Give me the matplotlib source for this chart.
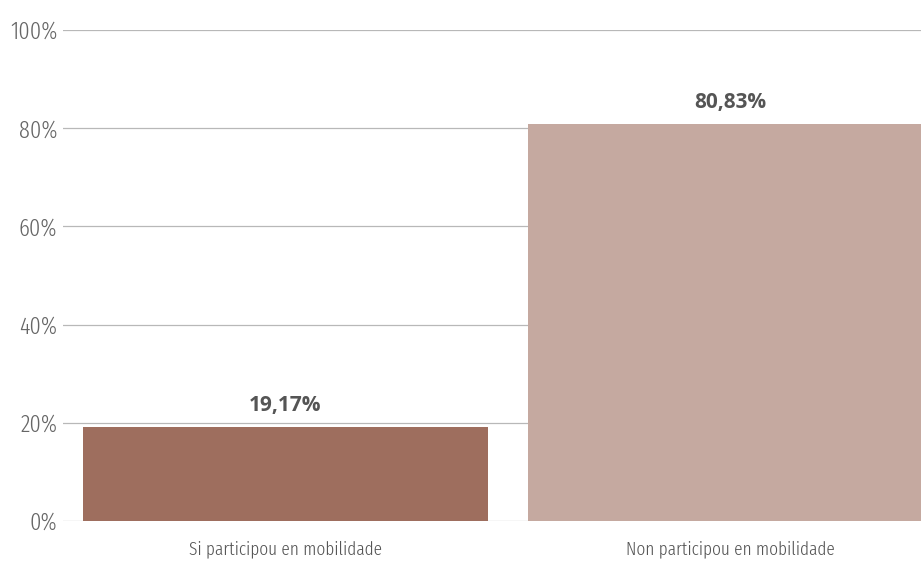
import matplotlib
matplotlib.use('Agg')
import matplotlib.pyplot as plt
from matplotlib.ticker import FuncFormatter

categories = ['Si participou en mobilidade', 'Non participou en mobilidade']
values = [19.17, 80.83]
colors = ['#9e6e5e', '#c5a9a0']
yticks = [0, 20, 40, 60, 80, 100]

plt.rcParams['font.family'] = ['Fira Sans Extra Condensed', 'DejaVu Sans']
plt.rcParams['font.weight'] = 300

fig = plt.figure(figsize=(9.21, 5.66), dpi=100)
ax = fig.add_axes([63 / 921, 1 - 521 / 566, (921 - 63) / 921, 491 / 566])

x = range(len(categories))
bars = ax.bar(x, values, width=0.912, color=colors, zorder=2)
for b, v in zip(bars, values):
    ax.text(b.get_x() + b.get_width() / 2, v + 2.2, f'{v:.2f}%'.replace('.', ','),
            ha='center', va='bottom', fontsize=15, fontweight='bold', color='#555555',
            family=['Open Sans', 'DejaVu Sans'])

ax.set_xlim(-0.5, 1.428)
ax.set_ylim(0, 100)
ax.set_yticks(yticks)
ax.yaxis.set_major_formatter(FuncFormatter(lambda v, p: f'{v:.0f}%'))
ax.set_xticks(list(x))
ax.set_xticklabels(categories)
ax.grid(axis='y', color='#b8b8b8', linewidth=0.9, zorder=0)
for s in ax.spines.values():
    s.set_visible(False)
ax.tick_params(axis='y', length=0, pad=4, labelsize=17.5, labelcolor='#666666')
ax.tick_params(axis='x', length=0, pad=14, labelsize=13.5, labelcolor='#555555')

fig.savefig('out.png', dpi=100)
